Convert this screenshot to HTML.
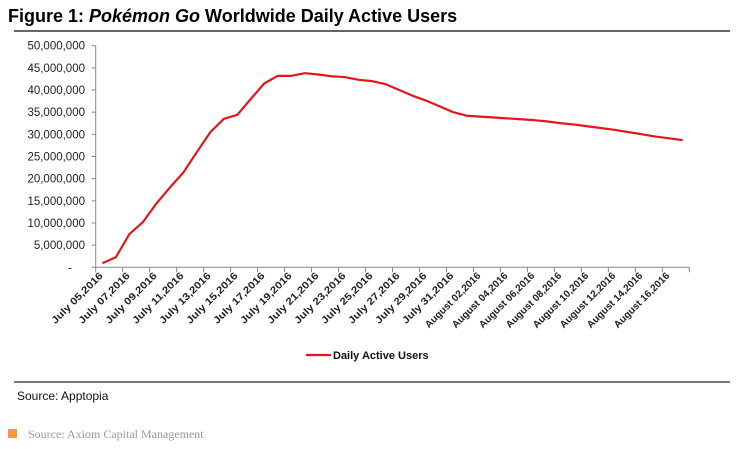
<!DOCTYPE html>
<html><head><meta charset="utf-8"><style>
body{margin:0;background:#fff;width:744px;height:449px;overflow:hidden;position:relative;font-family:"Liberation Sans",sans-serif}
.t{position:absolute}
</style></head><body>
<div class="t" style="left:8px;top:6px;font-size:18px;font-weight:bold;color:#000;white-space:nowrap">Figure 1: <i>Pokémon Go</i> Worldwide Daily Active Users</div>
<div class="t" style="left:14px;top:30px;width:716px;height:2px;background:#666"></div>
<svg class="t" style="left:0;top:0" width="744" height="449" id="chart"></svg>
<div class="t" style="left:14px;top:381px;width:716px;height:2px;background:#777"></div>
<div class="t" style="left:17px;top:389px;font-size:12px;color:#111">Source: Apptopia</div>
<div class="t" style="left:8px;top:429px;width:9px;height:9px;background:#f39c33"></div>
<div class="t" style="left:28px;top:427px;font-size:12px;color:#999;font-family:'Liberation Serif',serif">Source: Axiom Capital Management</div>
<script>
const categories=[];
(function(){const m=["July","August"];for(let d=5;d<=31;d++)categories.push("July "+String(d).padStart(2,"0")+",2016");for(let d=1;d<=17;d++)categories.push("August "+String(d).padStart(2,"0")+",2016");})();
const values=[0.9,2.3,7.5,10.2,14.4,18,21.4,26,30.5,33.5,34.4,38,41.5,43.2,43.2,43.8,43.5,43.1,42.9,42.3,42.0,41.3,40.0,38.7,37.6,36.3,35.0,34.2,34.0,33.8,33.6,33.4,33.2,32.9,32.5,32.2,31.8,31.4,31.0,30.5,30.0,29.5,29.1,28.7];
const yTicks=[0,5,10,15,20,25,30,35,40,45,50];
const yTickLabels=["-","5,000,000","10,000,000","15,000,000","20,000,000","25,000,000","30,000,000","35,000,000","40,000,000","45,000,000","50,000,000"];
const legendLabel="Daily Active Users";
const NS="http://www.w3.org/2000/svg",svg=document.getElementById("chart");
const X0=95.7,X1=689.3,Y0=267.3,Y1=45.7;
const band=(X1-X0)/categories.length;
function x(i){return X0+band*(i+0.5);}
function y(v){return Y0-(v/50)*(Y0-Y1);}
function mk(t,a){const e=document.createElementNS(NS,t);for(const k in a)e.setAttribute(k,a[k]);svg.appendChild(e);return e;}
let e=mk("line",{x1:X0,y1:Y1,x2:X0,y2:Y0+0.5,stroke:"#888"});


e=mk("line",{x1:X0,y1:Y0,x2:X1,y2:Y0,stroke:"#888"});


yTicks.forEach((v,i)=>{
 const t=mk("line",{x1:X0-4,y1:y(v),x2:X0,y2:y(v),stroke:"#888"});
 
 
 const l=mk("text",{x:i===0?72:85,y:y(v)+4,"text-anchor":"end","font-size":"11.5",fill:"#222","font-family":"Liberation Sans,sans-serif"});
 l.textContent=yTickLabels[i];
 
 
});
for(let i=0;i<=categories.length;i+=2){
 const tx=X0+band*i;
 const t=mk("line",{x1:tx,y1:Y0,x2:tx,y2:Y0+5,stroke:"#888"});
 
 
}
categories.forEach((c,i)=>{
 if(i%2)return;
 const lx=x(i)+1,ly=Y0+9;
 const l=mk("text",{x:lx,y:ly,"text-anchor":"end","font-size":"10","font-weight":"bold",fill:"#222",transform:`rotate(-45 ${lx} ${ly})`,"font-family":"Liberation Sans,sans-serif","textLength":c.startsWith("July")?68:74,"lengthAdjust":"spacingAndGlyphs"});
 l.textContent=c;
 
 
});
const p=mk("polyline",{points:values.map((v,i)=>x(i)+","+y(v)).join(" "),fill:"none",stroke:"#e3161c","stroke-width":"2.2","stroke-linejoin":"round"});


e=mk("line",{x1:306,y1:355,x2:331,y2:355,stroke:"#e3161c","stroke-width":"2.2"});


e=mk("text",{x:333,y:359,"font-size":"11","font-weight":"bold",fill:"#111","font-family":"Liberation Sans,sans-serif"});
e.textContent=legendLabel;


</script>
</body></html>
